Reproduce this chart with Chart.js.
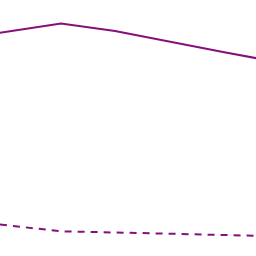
<!DOCTYPE html>
<html>
<head>
<meta charset="utf-8">
<script src="https://cdn.jsdelivr.net/npm/chart.js@4"></script>
<style>
  html, body { margin: 0; padding: 0; background: #fff; }
  canvas { display: block; }
</style>
</head>
<body>
<canvas id="chart" width="256" height="256"></canvas>
<script>
// ─── DATOS ─────────────────────────────────────────────
const xValues = [0, 61, 115, 169, 223, 277];
const solidValues = [223.3, 232.5, 225, 214.5, 204, 194];
const dashedValues = [31.5, 24.7, 23.5, 22.3, 21, 19.8];

const lineColor = '#85107a';

const toPoints = (vals) => vals.map((v, i) => ({ x: xValues[i], y: v }));

new Chart(document.getElementById('chart').getContext('2d'), {
    type: 'line',
    data: {
        datasets: [
            { data: toPoints(solidValues), borderColor: lineColor, borderWidth: 2, pointRadius: 0, tension: 0 },
            { data: toPoints(dashedValues), borderColor: lineColor, borderWidth: 2, borderDash: [7, 6], pointRadius: 0, tension: 0 }
        ]
    },
    options: {
        responsive: false,
        animation: false,
        layout: { padding: 0 },
        scales: {
            x: { type: 'linear', min: 0, max: 256, display: false },
            y: { min: 0, max: 256, display: false }
        },
        plugins: { legend: { display: false }, tooltip: { enabled: false } }
    }
});
</script>
</body>
</html>
